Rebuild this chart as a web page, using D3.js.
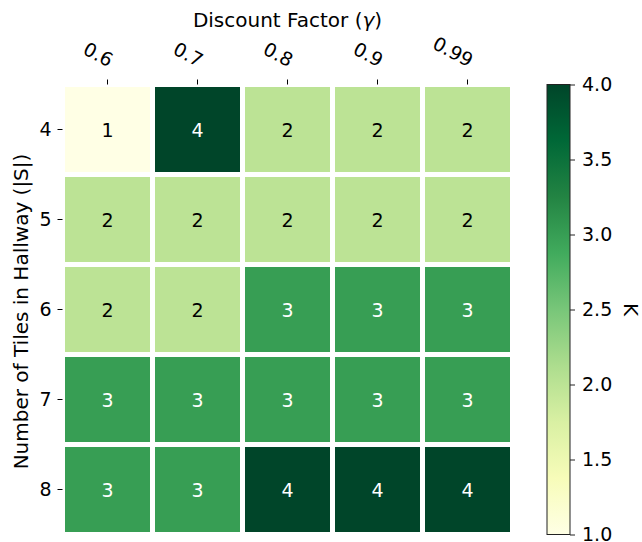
<!DOCTYPE html>
<html>
<head>
<meta charset="utf-8">
<script src="https://cdn.jsdelivr.net/npm/d3@7/dist/d3.min.js"></script>
<style>
  body { margin: 0; background: #fff; }
  svg text { font-family: "DejaVu Sans", sans-serif; fill: #000; }
</style>
</head>
<body>
<div id="chart"></div>
<script>
// columns / rows
var gammaLabels = ["0.6", "0.7", "0.8", "0.9", "0.99"];
var tileLabels = ["4", "5", "6", "7", "8"];

// K for each hallway length, one value per discount factor
var kTiles4 = [1, 4, 2, 2, 2];
var kTiles5 = [2, 2, 2, 2, 2];
var kTiles6 = [2, 2, 3, 3, 3];
var kTiles7 = [3, 3, 3, 3, 3];
var kTiles8 = [3, 3, 4, 4, 4];

var colorbarTicks = [1.0, 1.5, 2.0, 2.5, 3.0, 3.5, 4.0];

// matplotlib YlGn
var ylgn = ["#ffffe5", "#f7fcb9", "#d9f0a3", "#addd8e", "#78c679",
            "#41ab5d", "#238443", "#006837", "#004529"];

var kRows = [kTiles4, kTiles5, kTiles6, kTiles7, kTiles8];
var cells = [];
kRows.forEach(function(row, i){
    row.forEach(function(v, j){
        cells.push({tiles: tileLabels[i], gamma: gammaLabels[j], k: v});
    });
});

var width = 642, height = 542;
var hmLeft = 62.5, hmRight = 512.5, hmTop = 84.5, hmBottom = 534.5;

var vmin = 1, vmax = 4;
var color = d3.scaleLinear()
    .domain(ylgn.map(function(d, i){ return vmin + (vmax - vmin) * i / (ylgn.length - 1); }))
    .range(ylgn)
    .interpolate(d3.interpolateRgb);

var svg = d3.select("#chart").append("svg")
    .attr("width", width)
    .attr("height", height);

var x = d3.scaleBand().domain(gammaLabels).range([hmLeft, hmRight]);
var y = d3.scaleBand().domain(tileLabels).range([hmTop, hmBottom]);

var gap = 2.5;

svg.append("g").selectAll("rect")
    .data(cells)
    .enter().append("rect")
    .attr("x", function(d){ return x(d.gamma) + gap; })
    .attr("y", function(d){ return y(d.tiles) + gap; })
    .attr("width", x.bandwidth() - 2 * gap)
    .attr("height", y.bandwidth() - 2 * gap)
    .attr("fill", function(d){ return color(d.k); });

svg.append("g").selectAll("text")
    .data(cells)
    .enter().append("text")
    .attr("x", function(d){ return x(d.gamma) + x.bandwidth() / 2; })
    .attr("y", function(d){ return y(d.tiles) + y.bandwidth() / 2; })
    .attr("text-anchor", "middle")
    .attr("dominant-baseline", "central")
    .style("font-size", "19px")
    .style("fill", function(d){ return d.k >= 3 ? "#fff" : "#000"; })
    .text(function(d){ return d.k; });

// top axis
var xAxis = svg.append("g")
    .attr("transform", "translate(0," + hmTop + ")")
    .call(d3.axisTop(x).tickSize(5).tickSizeOuter(0));
xAxis.select(".domain").remove();
xAxis.selectAll(".tick line").attr("stroke", "#000");
xAxis.selectAll(".tick text")
    .attr("x", 0)
    .attr("y", 0)
    .attr("dy", 0)
    .attr("text-anchor", "end")
    .attr("transform", "translate(1,-17) rotate(28)")
    .style("font-size", "19px")
    .style("font-family", "DejaVu Sans");

// left axis
var yAxis = svg.append("g")
    .attr("transform", "translate(" + hmLeft + ",0)")
    .call(d3.axisLeft(y).tickSize(5).tickPadding(6).tickSizeOuter(0));
yAxis.select(".domain").remove();
yAxis.selectAll(".tick line").attr("stroke", "#000");
yAxis.selectAll(".tick text")
    .style("font-size", "19px")
    .style("font-family", "DejaVu Sans");

// axis titles
var title = svg.append("text")
    .attr("x", (hmLeft + hmRight) / 2)
    .attr("y", 26.5)
    .attr("text-anchor", "middle")
    .style("font-size", "20px");
title.append("tspan").text("Discount Factor (");
title.append("tspan").style("font-style", "italic").text("γ");
title.append("tspan").text(")");

svg.append("text")
    .attr("transform", "translate(28," + ((hmTop + hmBottom) / 2 + 2) + ") rotate(-90)")
    .attr("text-anchor", "middle")
    .style("font-size", "20px")
    .text("Number of Tiles in Hallway (|S|)");

// colorbar
var cbLeft = 547, cbWidth = 23;
var cbScale = d3.scaleLinear().domain([vmin, vmax]).range([hmBottom, hmTop]);

var grad = svg.append("defs").append("linearGradient")
    .attr("id", "ylgn")
    .attr("x1", "0").attr("y1", "1")
    .attr("x2", "0").attr("y2", "0");
grad.selectAll("stop")
    .data(ylgn)
    .enter().append("stop")
    .attr("offset", function(d, i){ return i / (ylgn.length - 1); })
    .attr("stop-color", function(d){ return d; });

svg.append("rect")
    .attr("x", cbLeft)
    .attr("y", hmTop)
    .attr("width", cbWidth)
    .attr("height", hmBottom - hmTop)
    .attr("fill", "url(#ylgn)")
    .attr("stroke", "#222")
    .attr("stroke-width", 1);

var cbAxis = svg.append("g")
    .attr("transform", "translate(" + (cbLeft + cbWidth) + ",0)")
    .call(d3.axisRight(cbScale).tickValues(colorbarTicks).tickFormat(d3.format(".1f")).tickSize(5).tickPadding(7));
cbAxis.select(".domain").remove();
cbAxis.selectAll(".tick line").attr("stroke", "#222");
cbAxis.selectAll(".tick text")
    .style("font-size", "19px")
    .style("font-family", "DejaVu Sans");

svg.append("text")
    .attr("transform", "translate(624," + (hmTop + hmBottom) / 2 + ") rotate(90)")
    .attr("text-anchor", "middle")
    .style("font-size", "20px")
    .text("K");
</script>
</body>
</html>
